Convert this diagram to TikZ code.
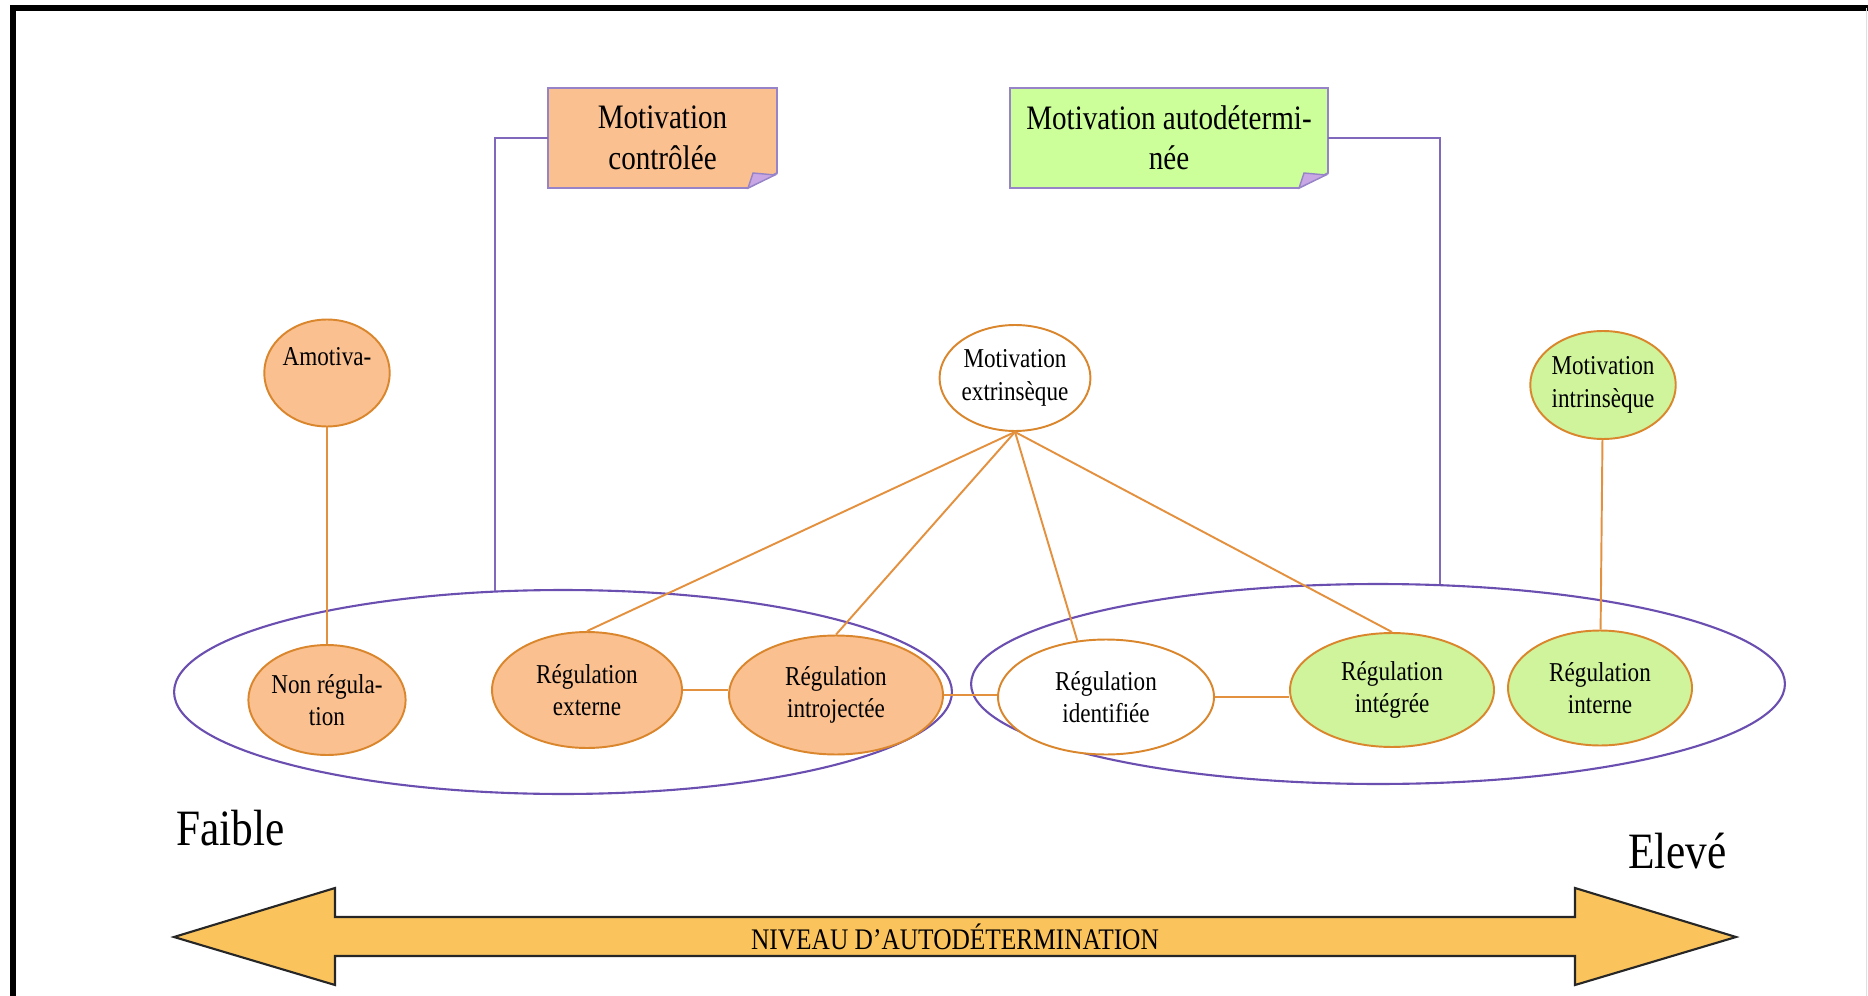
\documentclass[tikz,border=0pt]{standalone}
\usepackage{fontspec}
\setmainfont{Liberation Serif}[FakeStretch=0.85]
\usetikzlibrary{shapes.geometric}
\definecolor{peach}{HTML}{FAC090}
\definecolor{lime}{HTML}{CCFF99}
\definecolor{limeell}{HTML}{CFF49C}
\definecolor{rim}{HTML}{DA862C}
\definecolor{linkcol}{HTML}{E4913F}
\definecolor{violet}{HTML}{6A4FB0}
\definecolor{lilac}{HTML}{C9A6E4}
\definecolor{gold}{HTML}{FAC35C}
\tikzset{
    stage/.style={%
        ellipse, draw=rim, line width=1.1pt,
        inner sep=0pt, align=center,
        minimum width=#1,
        font=\fontsize{15.5}{18.5}\selectfont
    },
    stage/.default=3.8cm,
    group/.style={ellipse, draw=violet, line width=1.2pt, minimum width=#1},
    note/.style={%
        inner sep=0pt, align=center,
        minimum width=#1, minimum height=2cm,
        font=\fontsize{19.5}{23}\selectfont
    },
    tie/.style={draw=linkcol, line width=1.1pt},
    hook/.style={draw=violet!85, line width=1.1pt}
}

\begin{document}
\begin{tikzpicture}[x=0.02cm, y=-0.02cm]
    \useasboundingbox (0,0) rectangle (1868,996);
    % frame
    \draw[line width=0.12cm] (13,996) -- (13,8) -- (1868,8);
    \draw[black!12, line width=0.4pt] (1866,8) -- (1866,996);

    % the two boxes with folded corner
    \filldraw[fill=peach, draw=violet!70, line width=1pt] (548,88) -- (777,88) -- (777,173) -- (748,188) -- (548,188) -- cycle;
    \filldraw[fill=lilac, draw=violet!70, line width=0.8pt] (748,188) -- (775,175) -- (753,173) -- cycle;
    \filldraw[fill=lime, draw=violet!70, line width=1pt] (1010,88) -- (1328,88) -- (1328,173) -- (1299,188) -- (1010,188) -- cycle;
    \filldraw[fill=lilac, draw=violet!70, line width=0.8pt] (1299,188) -- (1326,175) -- (1304,173) -- cycle;
    \node[note=4.58cm] (ctrl) at (662.5,138) {Motivation\\contrôlée};
    \node[note=6.36cm] (autod) at (1169,138) {Motivation autodétermi-\\née};

    % groups
    \node[group=15.56cm, minimum height=4.08cm] (leftgroup) at (563,692) {};
    \node[group=16.28cm, minimum height=4cm] (rightgroup) at (1378,684) {};
    \draw[hook] (ctrl.west) -| (leftgroup.124);
    \draw[hook] (autod.east) -| (rightgroup.58);

    % stages
    \node[stage=2.1cm, fill=peach, minimum height=2.14cm] (amot) at (327,373) {Amotiva-\\\mbox{}};
    \node[stage=2.86cm, fill=white, minimum height=2.12cm] (extr) at (1015,378) {Motivation\\extrinsèque};
    \node[stage=2.48cm, fill=limeell, minimum height=2.16cm] (intr) at (1603,385) {Motivation\\intrinsèque};
    \node[stage=2.6cm, fill=peach, minimum height=2.2cm] (nonreg) at (327,700) {Non régula-\\tion};
    \node[stage=3.8cm, fill=peach, minimum height=2.32cm] (regext) at (587,690) {Régulation\\externe};
    \node[stage=4.28cm, fill=peach, minimum height=2.38cm] (regintro) at (836,695) {Régulation\\introjectée};
    \node[stage=4.32cm, fill=white, minimum height=2.3cm] (regident) at (1106,697) {Régulation\\identifiée};
    \node[stage=4.08cm, fill=limeell, minimum height=2.28cm] (reginteg) at (1392,690) {Régulation\\intégrée};
    \node[stage=3.68cm, fill=limeell, minimum height=2.3cm] (regint) at (1600,688) {Régulation\\interne};

    \draw[tie] (amot) -- (nonreg);
    \draw[tie] (intr) -- (regint);
    \draw[tie] (extr.south) -- (regext.north);
    \draw[tie] (extr.south) -- (regintro.north);
    \draw[tie] (extr.south) -- (regident.117);
    \draw[tie] (extr.south) -- (reginteg.north);
    \draw[tie] (regext.east) -- (regext.east -| regintro.west);
    \draw[tie] (regintro.east) -- (regintro.east -| regident.west);
    \draw[tie] (regident.east) -- (regident.east -| reginteg.west);

    % scale
    \node[anchor=base west, font=\fontsize{29}{34}\selectfont] (low) at (170,845) {Faible};
    \node[anchor=base west, font=\fontsize{29}{34}\selectfont] (high) at (1622,868) {Elevé};
    \filldraw[fill=gold, draw=black!85, line width=1.2pt] (174,937) -- (335,888) -- (335,917) -- (1575,917) -- (1575,888) -- (1736,937) -- (1575,985) -- (1575,956) -- (335,956) -- (335,985) -- cycle;
    \node[font=\fontsize{17}{20}\selectfont] (level) at (955,937) {NIVEAU D’AUTODÉTERMINATION};
\end{tikzpicture}
\end{document}
